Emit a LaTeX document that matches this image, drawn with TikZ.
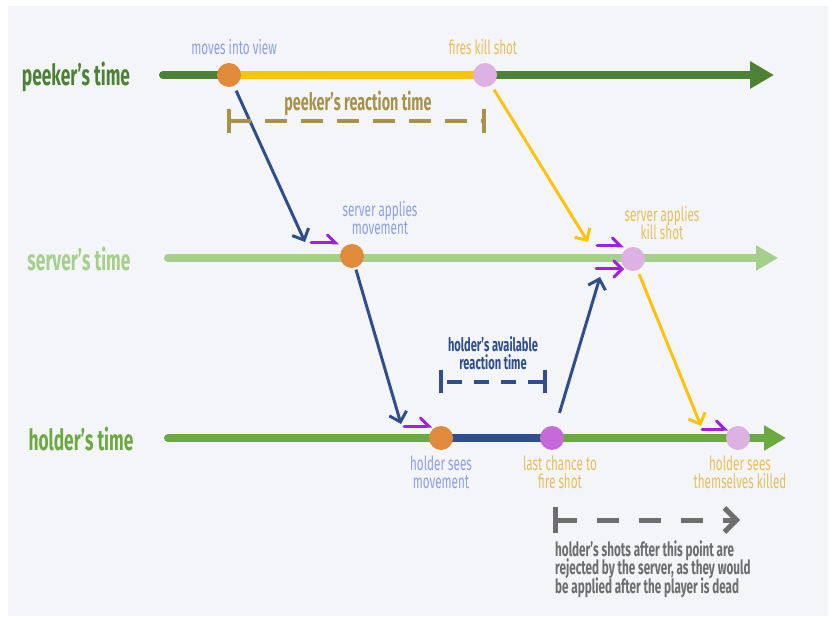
\documentclass[tikz,border=0pt]{standalone}
\usepackage{fontspec}
\setmainfont{Fira Sans}[FakeStretch=0.6]
\usetikzlibrary{arrows.meta}
\definecolor{panel}{HTML}{F4F5F8}
\definecolor{pgreen}{HTML}{4C8233}
\definecolor{sgreen}{HTML}{A5D08C}
\definecolor{hgreen}{HTML}{6BAA40}
\definecolor{yel}{HTML}{FFC20E}
\definecolor{yeltext}{HTML}{E8BF5C}
\definecolor{orng}{HTML}{E08A3C}
\definecolor{lilac}{HTML}{DDB2E2}
\definecolor{purp}{HTML}{C56AD8}
\definecolor{dblue}{HTML}{2E4E8E}
\definecolor{lblue}{HTML}{8CA0E6}
\definecolor{olive}{HTML}{A8914A}
\definecolor{harp}{HTML}{A020E0}
\definecolor{greyc}{HTML}{6E6E6E}
\newcommand{\tightlines}{\lineskiplimit=-30pt\relax}
\tikzset{
  timeline/.style={line width=8pt, line cap=round},
  dot/.style={circle, inner sep=0pt, minimum size=24pt},
  conn/.style={line width=3pt, -{Straight Barb[length=9pt,width=18pt,line width=3pt]}},
  harpoon/.style={harp, line width=3pt, line cap=round, -{Straight Barb[harpoon,length=8pt,width=16pt,line width=3pt,line cap=round]}},
  harpfull/.style={harp, line width=3pt, line cap=round, -{Straight Barb[length=8pt,width=16pt,line width=3pt,line cap=round]}},
  biglabel/.style={font=\bfseries\fontsize{29}{32}\selectfont, anchor=center, inner sep=0pt},
  small/.style={font=\fontsize{19.5}{18}\selectfont\tightlines, align=center, inner sep=0pt},
  bracket/.style={line width=4pt, dash pattern=on 22pt off 14pt},
  bar/.style={line width=3.5pt}
}
\begin{document}
\begin{tikzpicture}[x=1pt,y=-1pt]
\useasboundingbox (0,0) rectangle (833,620);
\fill[white] (0,0) rectangle (833,620);
\fill[panel] (8,6) rectangle (828,616);

% labels
\node[biglabel, text=pgreen] (lp) at (76,77) {peeker’s time};
\node[biglabel, text=sgreen] (ls) at (79,259) {server’s time};
\node[biglabel, text=hgreen] (lh) at (81,439) {holder’s time};

% timeline coordinates
\coordinate (ps) at (163,75);  \coordinate (pe) at (774,75);
\coordinate (ss) at (168,258); \coordinate (se) at (778,258);
\coordinate (hs) at (168,438); \coordinate (he) at (786,438);

\node[dot] (pA) at (229,75) {};
\node[dot] (pB) at (485,75) {};
\node[dot] (sA) at (352,256) {};
\node[dot] (sB) at (633,259) {};
\node[dot] (hA) at (441,438) {};
\node[dot] (hB) at (552,438) {};
\node[dot] (hC) at (738,438) {};

\draw[timeline, pgreen, -{Triangle[length=24pt,width=26pt]}] (ps) -- (pe);
\draw[line width=8pt, yel] (pA.center) -- (pB.center);
\draw[timeline, sgreen, -{Triangle[length=22pt,width=24pt]}] (ss) -- (se);
\draw[timeline, hgreen, -{Triangle[length=22pt,width=24pt]}] (hs) -- (he);
\draw[line width=8pt, dblue] (hA.center) -- (hB.center);

\fill[orng] (pA) circle (12pt);
\fill[lilac] (pB) circle (12pt);
\fill[orng] (sA) circle (12pt);
\fill[lilac] (sB) circle (12pt);
\fill[orng] (hA) circle (12pt);
\fill[purp] (hB) circle (12pt);
\fill[lilac] (hC) circle (12pt);

% connector ends
\coordinate (e1) at (305,242);
\coordinate (e2) at (588,242);
\coordinate (e3) at (401,424);
\coordinate (e4) at (600,277);
\coordinate (e5) at (701,426);

\draw[conn, dblue, shorten <=5pt] (pA) -- (e1);
\draw[conn, yel, shorten <=5pt] (pB) -- (e2);
\draw[conn, dblue, shorten <=2pt] (sA) -- (e3);
\draw[conn, dblue, shorten <=14pt] (hB) -- (e4);
\draw[conn, yel, shorten <=4pt] (sB) -- (e5);

% purple harpoons
\coordinate (h1a) at (311,243); \coordinate (h1b) at (339,243);
\coordinate (h2a) at (597,246); \coordinate (h2b) at (624,246);
\coordinate (h3a) at (596,269); \coordinate (h3b) at (624,269);
\coordinate (h4a) at (404,426); \coordinate (h4b) at (432,426);
\coordinate (h5a) at (702,429); \coordinate (h5b) at (728,429);
\draw[harpoon] (h1a) -- (h1b);
\draw[harpoon] (h2a) -- (h2b);
\draw[harpfull] (h3a) -- (h3b);
\draw[harpoon] (h4a) -- (h4b);
\draw[harpoon] (h5a) -- (h5b);

% small labels
\node[small, text=lblue] (t1) at (234,47) {moves into view};
\node[small, text=yeltext] (t2) at (483,47) {fires kill shot};
\node[small, text=lblue] (t3) at (380,218) {server applies\\movement};
\node[small, text=yeltext] (t4) at (662,223) {server applies\\kill shot};
\node[small, text=lblue] (t5) at (441,472) {holder sees\\movement};
\node[small, text=yeltext] (t6) at (560,472) {last chance to\\fire shot};
\node[small, text=yeltext] (t7) at (740,472) {holder sees\\themselves killed};
\node[small, text=dblue, font=\bfseries\fontsize{18.5}{18}\selectfont\tightlines] (t8) at (493,353) {holder’s available\\reaction time};
\node[text=olive, font=\bfseries\fontsize{24}{26}\selectfont, inner sep=0pt] (t9) at (358,103) {peeker’s reaction time};

% peeker bracket
\coordinate (b1t) at (229,109); \coordinate (b1b) at (229,133);
\coordinate (b2t) at (484,109); \coordinate (b2b) at (484,133);
\coordinate (b1m) at (229,121); \coordinate (b2m) at (484,121);
\draw[bar, olive] (b1t) -- (b1b);
\draw[bar, olive] (b2t) -- (b2b);
\draw[bracket, olive] (b1m) -- (b2m);

% holder bracket
\coordinate (c1t) at (441,370); \coordinate (c1b) at (441,393);
\coordinate (c2t) at (545,370); \coordinate (c2b) at (545,393);
\coordinate (c1m) at (441,382); \coordinate (c2m) at (545,382);
\draw[bar, dblue] (c1t) -- (c1b);
\draw[bar, dblue] (c2t) -- (c2b);
\draw[line width=3.5pt, dblue, dash pattern=on 15pt off 12pt, dash phase=-6pt] (c1m) -- (c2m);

% grey arrow
\coordinate (g1t) at (555,507); \coordinate (g1b) at (555,533);
\coordinate (g1m) at (555,520); \coordinate (g2m) at (740,520);
\draw[line width=5pt, greyc] (g1t) -- (g1b);
\draw[line width=5pt, greyc, dash pattern=on 22pt off 20pt, -{Straight Barb[length=12pt,width=24pt,line width=5pt]}] (g1m) -- (g2m);

\node[text=greyc, font=\bfseries\fontsize{19.5}{18.8}\selectfont\tightlines, align=left, anchor=north west, inner sep=0pt] (gt) at (555,540) {holder’s shots after this point are\\rejected by the server, as they would\\be applied after the player is dead};
\end{tikzpicture}
\end{document}
